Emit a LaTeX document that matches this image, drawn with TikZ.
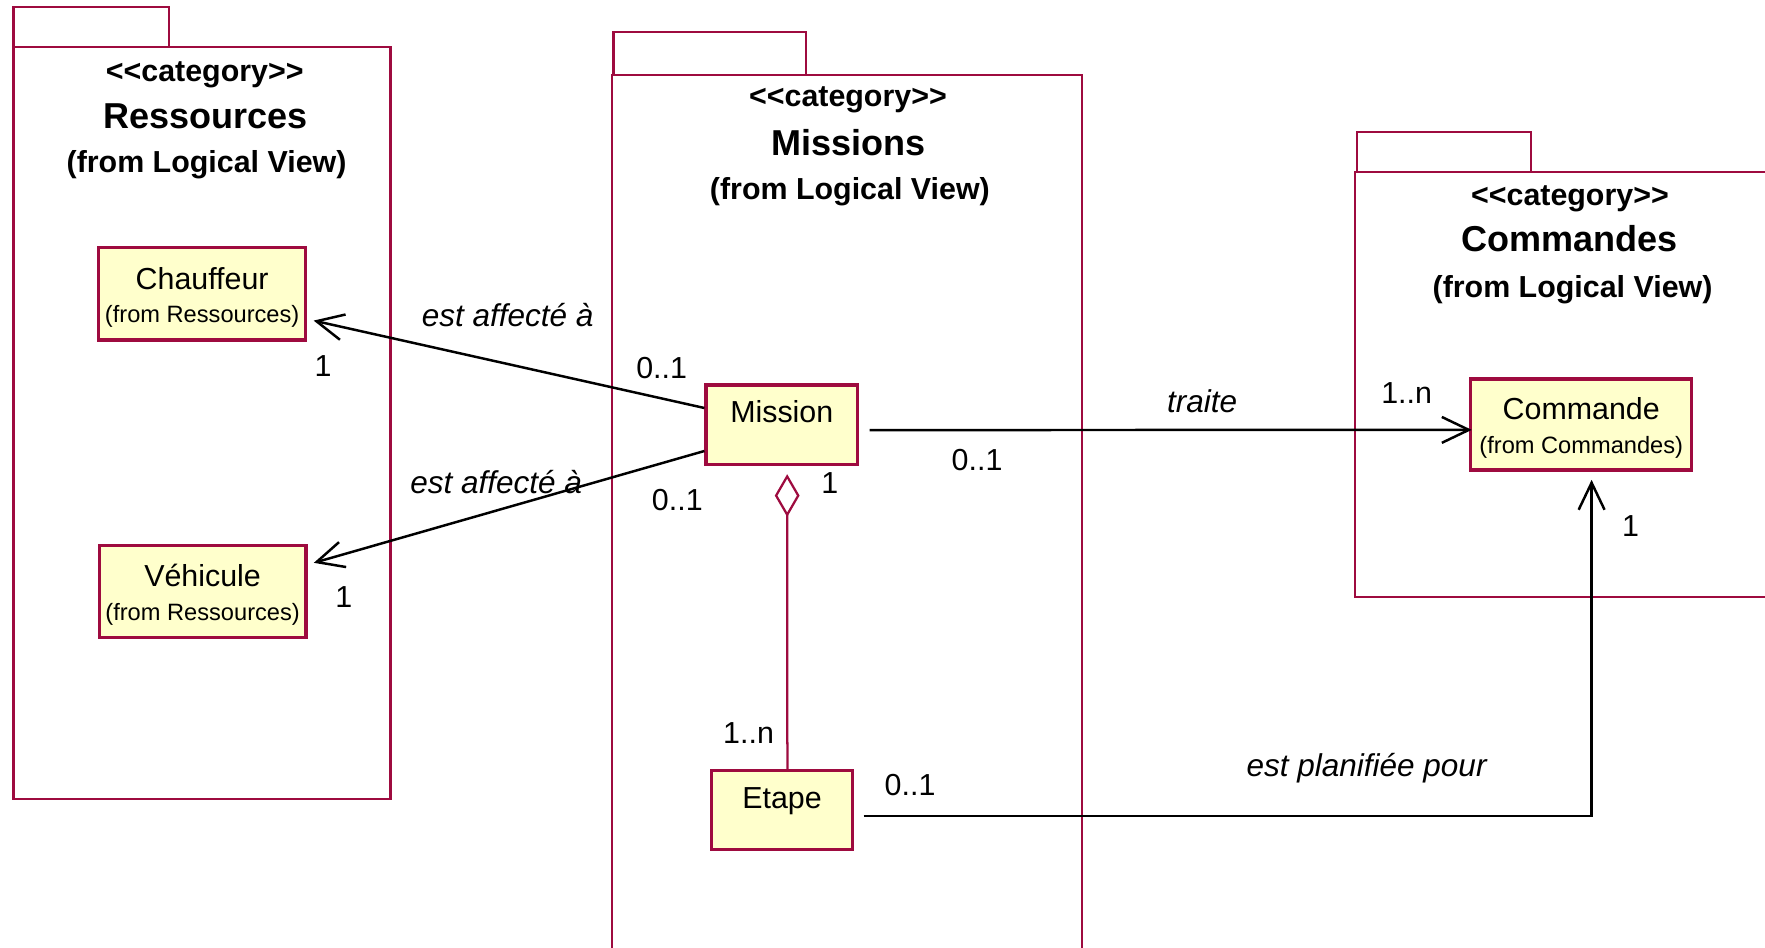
\documentclass[tikz,border=0pt]{standalone}
\usepackage{fontspec}
\setmainfont{Liberation Sans}
\usepackage{xcolor}
\usetikzlibrary{arrows.meta,positioning}
\definecolor{rosered}{HTML}{9E0B3F}
\definecolor{rosefill}{HTML}{FFFFCC}
\definecolor{ink}{HTML}{000000}
\newcommand{\fromtag}[1]{{\fontsize{10.5}{12}\selectfont(from #1)}}
\newcommand{\stereotag}[1]{<{}<#1>{}>}
\tikzset{
  pkgline/.style={draw=rosered,line width=1pt},
  pkgstereo/.style={font=\bfseries\fontsize{13.5}{16}\selectfont,inner sep=0pt},
  pkgname/.style={font=\bfseries\fontsize{16}{19}\selectfont,inner sep=0pt},
  pkgfrom/.style={font=\bfseries\fontsize{13.5}{16}\selectfont,inner sep=0pt},
  classbox/.style={draw=rosered,fill=rosefill,line width=1.4pt,align=center,
                   inner sep=0pt,font=\fontsize{13.5}{15}\selectfont},
  twoline/.style={classbox,minimum width=91.8pt,minimum height=41pt},
  oneline/.style={classbox,text height=10pt,text depth=12pt,minimum height=35.2pt},
  assoc/.style={draw=ink,line width=1.1pt},
  navarr/.style={assoc,-{Straight Barb[length=12pt,width=11.5pt]}},
  aggr/.style={draw=rosered,line width=1pt,
               -{Diamond[open,length=19pt,width=11pt]}},
  mult/.style={font=\fontsize{13.5}{16}\selectfont,inner sep=0pt},
  rolename/.style={font=\itshape\fontsize{14}{17}\selectfont,inner sep=0pt}
}
\begin{document}
\begin{tikzpicture}[x=0.5pt,y=-0.5pt]
  \useasboundingbox (0,0) rectangle (1568,842);
  \fill[white] (0,0) rectangle (1568,842);

  \draw[pkgline] (12,42) rectangle (347,710);
  \draw[pkgline] (12,42) -- (12,6.5) -- (150,6.5) -- (150,42);
  \node[pkgstereo] (stRess) at (181.9,66.5) {\stereotag{category}};
  \node[pkgname] (nmRess) at (182.5,103) {Ressources};
  \node[pkgfrom] (frRess) at (183.5,146) {(from Logical View)};

  \draw[pkgline] (544,860) -- (544,66.6) -- (961,66.6) -- (961,860);
  \draw[pkgline] (545,66.6) -- (545,28.7) -- (716,28.7) -- (716,66.6);
  \node[pkgstereo] (stMiss) at (753.3,88.5) {\stereotag{category}};
  \node[pkgname] (nmMiss) at (753.5,126.5) {Missions};
  \node[pkgfrom] (frMiss) at (755,170.3) {(from Logical View)};

  \draw[pkgline] (1580,153) -- (1204,153) -- (1204,530.6) -- (1580,530.6);
  \draw[pkgline] (1205.5,153) -- (1205.5,117.5) -- (1360,117.5) -- (1360,153);
  \node[pkgstereo] (stComm) at (1394.7,176.5) {\stereotag{category}};
  \node[pkgname] (nmComm) at (1394.5,212.3) {Commandes};
  \node[pkgfrom] (frComm) at (1397,257) {(from Logical View)};

  \node[twoline] (Chauffeur) at (179.6,261)
    {\rule{0pt}{13pt}Chauffeur\\\fromtag{Ressources}};
  \node[twoline] (Vehicule) at (180,525.4)
    {\rule{0pt}{13pt}Véhicule\\\fromtag{Ressources}};
  \node[oneline,minimum width=67.3pt] (Mission) at (694.5,377.25) {Mission};
  \node[oneline,minimum width=62.7pt] (Etape) at (694.7,719.8) {Etape};
  \node[twoline,minimum width=98.3pt,minimum height=40.4pt] (Commande) at (1404.75,377.1)
    {\rule{0pt}{13pt}Commande\\\fromtag{Commandes}};

  \draw[navarr] ([yshift=7.4pt]Mission.west) -- ([xshift=2.9pt,yshift=-11.9pt]Chauffeur.east);
  \draw[navarr] ([yshift=-11.7pt]Mission.west) -- ([xshift=2.8pt,yshift=12.7pt]Vehicule.east);
  \draw[navarr] ([xshift=4.7pt,yshift=-2.4pt]Mission.east) -- ([xshift=1.2pt,yshift=-2.4pt]Commande.west);
  \draw[aggr] ([xshift=2.4pt]Etape.north) -- ([xshift=2.4pt,yshift=-3.7pt]Mission.south);
  \draw[navarr] ([xshift=4.2pt,yshift=-2.6pt]Etape.east) -| ([xshift=4.6pt,yshift=-3.7pt]Commande.south);

  \node[rolename] (roleChauf) at (451,279.8) {est affecté à};
  \node[rolename] (roleVehic) at (440.8,427.9) {est affecté à};
  \node[rolename] (roleTraite) at (1068,356) {traite};
  \node[rolename] (rolePlanif) at (1214,682.5) {est planifiée pour};

  \node[mult] (mChaufA) at (587.8,327) {0..1};
  \node[mult] (mChaufB) at (287,324.8) {1};
  \node[mult] (mVehicA) at (601.7,444) {0..1};
  \node[mult] (mVehicB) at (305.4,530) {1};
  \node[mult] (mTraiteA) at (868,408.6) {0..1};
  \node[mult] (mTraiteB) at (1249.6,348.8) {1..n};
  \node[mult] (mAggrA) at (737.3,429.4) {1};
  \node[mult] (mAggrB) at (665,651.4) {1..n};
  \node[mult] (mPlanA) at (808.5,697.3) {0..1};
  \node[mult] (mPlanB) at (1448.6,467.3) {1};
\end{tikzpicture}
\end{document}
